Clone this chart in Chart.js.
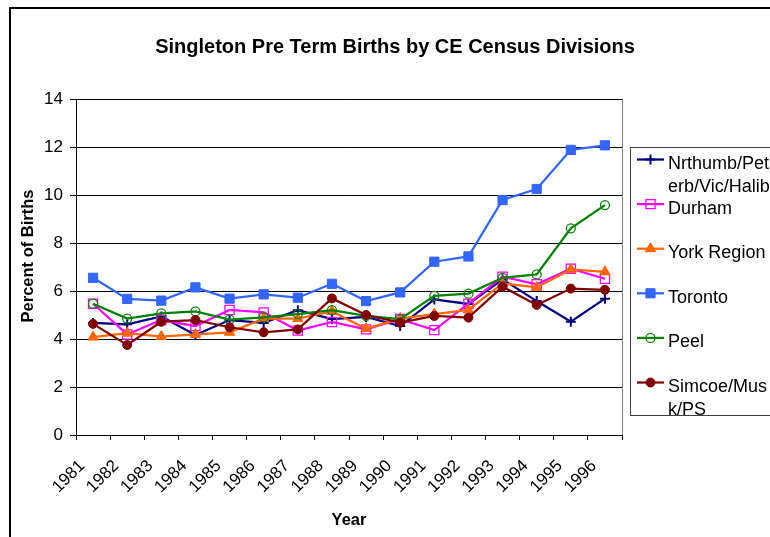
<!DOCTYPE html>
<html>
<head>
<meta charset="utf-8">
<title>Singleton Pre Term Births by CE Census Divisions</title>
<script src="https://cdn.jsdelivr.net/npm/chart.js@4.4.1/dist/chart.umd.min.js"></script>
<style>
    html, body { margin: 0; padding: 0; background: #fff; }
    #wrap { position: relative; width: 770px; height: 537px; overflow: hidden; }
</style>
</head>
<body>
<div id="wrap"><canvas id="chart" width="770" height="537"></canvas></div>
<script>
// Chart data
const years = ['1981', '1982', '1983', '1984', '1985', '1986', '1987', '1988',
               '1989', '1990', '1991', '1992', '1993', '1994', '1995', '1996'];

const nrthumb = [4.67, 4.61, 4.94, 4.17, 4.79, 4.67, 5.20, 4.83, 4.92, 4.54, 5.65, 5.46, 6.49, 5.58, 4.72, 5.68];
const durham  = [5.47, 4.19, 4.79, 4.54, 5.21, 5.11, 4.35, 4.71, 4.40, 4.83, 4.37, 5.47, 6.60, 6.28, 6.93, 6.51];
const york    = [4.08, 4.24, 4.10, 4.19, 4.28, 4.85, 4.85, 5.15, 4.43, 4.85, 5.04, 5.21, 6.32, 6.15, 6.90, 6.80];
const toronto = [6.55, 5.67, 5.60, 6.15, 5.68, 5.86, 5.72, 6.30, 5.58, 5.94, 7.22, 7.44, 9.79, 10.25, 11.88, 12.07];
const peel    = [5.47, 4.85, 5.07, 5.15, 4.81, 4.90, 5.04, 5.20, 4.96, 4.83, 5.80, 5.89, 6.55, 6.69, 8.61, 9.58];
const simcoe  = [4.63, 3.75, 4.72, 4.79, 4.49, 4.28, 4.40, 5.69, 5.00, 4.68, 4.96, 4.89, 6.18, 5.42, 6.10, 6.05];

const seriesNames = [
    ['Nrthumb/Pet', 'erb/Vic/Halib'],
    ['Durham'],
    ['York Region'],
    ['Toronto'],
    ['Peel'],
    ['Simcoe/Mus', 'k/PS']
];
const yTicks = [0, 2, 4, 6, 8, 10, 12, 14];

const chartTitle = 'Singleton Pre Term Births by CE Census Divisions';
const xTitle = 'Year';
const yTitle = 'Percent of Births';

const font = "'Liberation Sans', Arial, sans-serif";

Chart.defaults.color = '#000';
Chart.defaults.font.family = font;

function series(name, data, color, style, radius, fill, bw, order) {
    return {
        label: name.join(' '),
        data: data,
        borderColor: color,
        backgroundColor: color,
        borderWidth: 2.25,
        pointStyle: style,
        pointRadius: radius,
        pointHoverRadius: radius,
        pointBackgroundColor: fill,
        pointBorderColor: color,
        pointBorderWidth: bw,
        tension: 0,
        order: order
    };
}

const datasets = [
    series(seriesNames[0], nrthumb, '#000080', 'cross', 5, '#000080', 2, 5),
    series(seriesNames[1], durham, '#ff00ff', 'rect', 6.5, 'rgba(255,255,255,0)', 1.25, 4),
    series(seriesNames[2], york, '#ff6600', 'triangle', 6, '#ff6600', 1, 3),
    series(seriesNames[3], toronto, '#3366ff', 'rect', 6.5, '#3366ff', 1, 2),
    series(seriesNames[4], peel, '#008000', 'circle', 4.5, 'rgba(255,255,255,0)', 1.25, 1),
    series(seriesNames[5], simcoe, '#800000', 'circle', 4.5, '#800000', 1, 0)
];

// Frame, title, y title, plot border and legend
const decor = {
    id: 'decor',
    afterDraw(chart) {
        const ctx = chart.ctx;
        const area = chart.chartArea;
        ctx.save();

        ctx.strokeStyle = '#000';
        ctx.lineWidth = 2;
        ctx.strokeRect(10, 8, 790, 600);

        ctx.strokeStyle = '#808080';
        ctx.lineWidth = 1;
        ctx.beginPath();
        ctx.moveTo(Math.round(area.right) + 0.5, area.top);
        ctx.lineTo(Math.round(area.right) + 0.5, area.bottom);
        ctx.stroke();

        ctx.fillStyle = '#000';
        ctx.textAlign = 'center';
        ctx.textBaseline = 'middle';
        ctx.font = 'bold 20px ' + font;
        ctx.fillText(chartTitle, 395, 47);

        ctx.save();
        ctx.translate(28, 256);
        ctx.rotate(-Math.PI / 2);
        ctx.font = 'bold 16.5px ' + font;
        ctx.fillText(yTitle, 0, 0);
        ctx.restore();

        // legend
        ctx.strokeStyle = '#404040';
        ctx.lineWidth = 1;
        ctx.strokeRect(630.5, 147.5, 200, 268);

        ctx.font = '18px ' + font;
        ctx.textAlign = 'left';
        chart.data.datasets.forEach((ds, i) => {
            const y = 159.5 + i * 44.6;
            ctx.strokeStyle = ds.borderColor;
            ctx.lineWidth = ds.borderWidth;
            ctx.beginPath();
            ctx.moveTo(637, y);
            ctx.lineTo(664, y);
            ctx.stroke();

            ctx.fillStyle = ds.pointBackgroundColor;
            ctx.strokeStyle = ds.pointBorderColor;
            ctx.lineWidth = ds.pointBorderWidth;
            Chart.helpers.drawPoint(ctx, {
                pointStyle: ds.pointStyle,
                radius: ds.pointRadius,
                rotation: 0,
                borderWidth: ds.pointBorderWidth
            }, 650.5, y);

            ctx.fillStyle = '#000';
            seriesNames[i].forEach((line, k) => {
                ctx.fillText(line, 668, y + 4.5 + k * 22.7);
            });
        });

        ctx.restore();
    }
};

new Chart(document.getElementById('chart'), {
    type: 'line',
    data: { labels: years, datasets: datasets },
    plugins: [decor],
    options: {
        responsive: false,
        devicePixelRatio: 1,
        animation: false,
        layout: { padding: { top: 99, right: 148, bottom: 0, left: 0 } },
        plugins: {
            legend: { display: false },
            title: { display: false },
            tooltip: { enabled: false }
        },
        scales: {
            x: {
                offset: true,
                grid: {
                    offset: true,
                    drawOnChartArea: false,
                    drawTicks: true,
                    tickLength: 5,
                    color: '#000'
                },
                border: { color: '#000', width: 1 },
                ticks: {
                    autoSkip: false,
                    minRotation: 45,
                    maxRotation: 45,
                    padding: 16,
                    labelOffset: -11,
                    font: { size: 17 }
                },
                title: {
                    display: true,
                    text: xTitle,
                    font: { size: 16.5, weight: 'bold' },
                    padding: { top: 0, bottom: 7 }
                },
                afterFit(scale) { scale.height = 102; }
            },
            y: {
                min: yTicks[0],
                max: yTicks[yTicks.length - 1],
                ticks: {
                    stepSize: yTicks[1] - yTicks[0],
                    padding: 7,
                    font: { size: 17 }
                },
                grid: {
                    color: '#000',
                    lineWidth: 1,
                    tickLength: 6
                },
                border: { color: '#000', width: 1 },
                afterFit(scale) { scale.width = 76; }
            }
        }
    }
});
</script>
</body>
</html>
